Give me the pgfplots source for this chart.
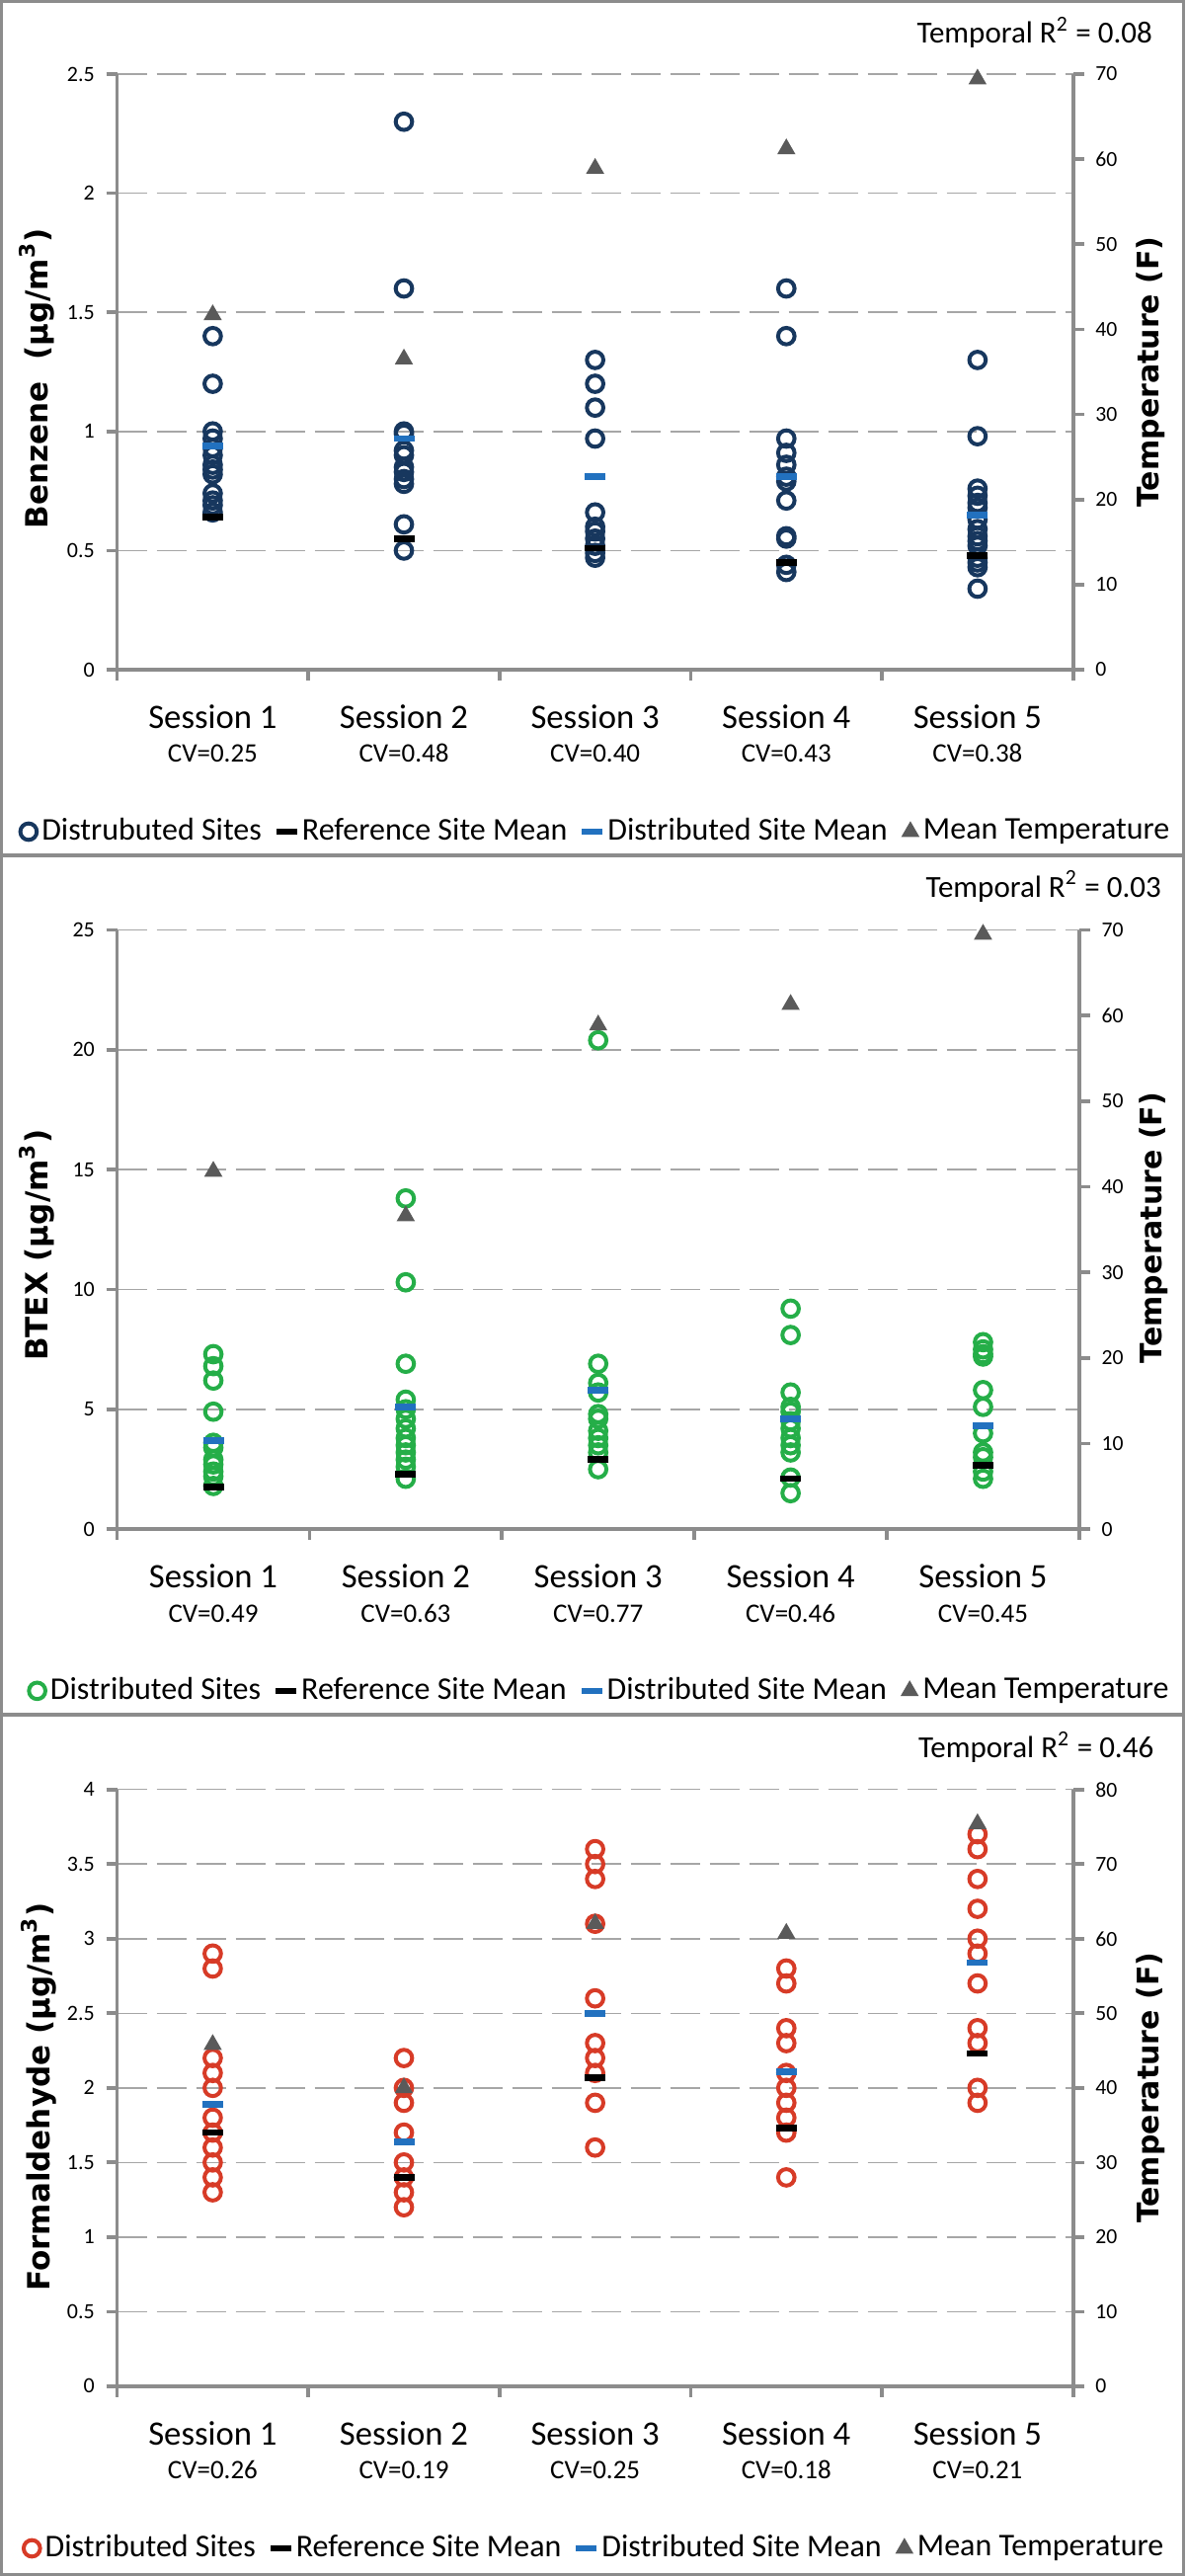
\documentclass[border=0pt]{standalone}
\usepackage{fontspec}
\setmainfont{Carlito}
\newfontfamily\labfont{DejaVu Sans}
\usepackage{pgfplots}
\pgfplotsset{compat=1.18}

\definecolor{navy}{HTML}{17375E}
\definecolor{grn}{HTML}{25AE48}
\definecolor{redc}{HTML}{D73B27}
\definecolor{bluem}{HTML}{2271BF}
\definecolor{tri}{HTML}{5A5A5A}
\definecolor{axgray}{HTML}{8C8C8C}
\definecolor{gridgray}{HTML}{A6A6A6}
\definecolor{bordergray}{HTML}{8C8C8C}

\tikzset{
  leftlab/.style={font=\labfont\bfseries\fontsize{9.3}{11}\selectfont},
  rightlab/.style={font=\labfont\bfseries\fontsize{9}{11}\selectfont},
}
\pgfplotsset{
  leftaxis/.style={
    scale only axis, xmin=0.5, xmax=5.5, ymin=0,
    axis x line*=bottom, axis y line*=left,
    axis line style={axgray, line width=1.1pt},
    every tick/.style={axgray, line width=1.1pt},
    tick align=outside, major tick length=3.3pt,
    xtick={0.5,1.5,2.5,3.5,4.5,5.5}, xticklabels={},
    extra x ticks={1,2,3,4,5},
    extra x tick style={xtick style={draw=none},
      xticklabel style={align=center, anchor=north, yshift=-3.8pt, font=\fontsize{10.4}{10.4}\selectfont}},
    ymajorgrids, major grid style={gridgray, line width=0.45pt, dash pattern=on 9pt off 3pt},
    yticklabel style={font=\fontsize{6.6}{8}\selectfont},
    /pgf/number format/assume math mode=true,
    clip=false,
  },
  rightaxis/.style={
    scale only axis, xmin=0.5, xmax=5.5, ymin=0,
    axis y line*=right, axis x line=none,
    axis line style={axgray, line width=1.1pt},
    every tick/.style={axgray, line width=1.1pt},
    tick align=outside, major tick length=3.3pt,
    yticklabel style={font=\fontsize{6.5}{8}\selectfont},
    /pgf/number format/assume math mode=true,
    legend columns=4,
    legend style={draw=none, fill=none, font=\fontsize{9.6}{11}\selectfont,
      nodes={inner sep=1.5pt},
      /tikz/every even column/.append style={column sep=3pt}},
    legend image code/.code={\draw[mark repeat=2,mark phase=2,##1] plot coordinates {(0pt,0pt)(3.2pt,0pt)(6.4pt,0pt)};},
    clip=false,
  },
  circ/.style={only marks, mark=o, mark size=2.5pt, line width=1.2pt, color=#1},
  refm/.style={only marks, mark=-, mark size=3.15pt, line width=2pt, color=black},
  distm/.style={only marks, mark=-, mark size=3.15pt, line width=2pt, color=bluem},
  temp/.style={only marks, mark=triangle*, mark size=2.8pt, color=tri},
}

\begin{document}
\begin{tikzpicture}
\path[use as bounding box] (0pt,0pt) rectangle (360pt,782.4pt);
\draw[bordergray, line width=0.9pt] (0.45pt,522.6pt) rectangle (359.55pt,781.95pt);
\draw[bordergray, line width=0.9pt] (0.45pt,261.6pt) rectangle (359.55pt,522.3pt);
\draw[bordergray, line width=0.9pt] (0.45pt,0.45pt) rectangle (359.55pt,261.3pt);

\node[anchor=east, font=\fontsize{9.3}{11}\selectfont] at (353.6pt,772.5pt) {Temporal R\textsuperscript{2} = 0.08};
\node[anchor=east, font=\fontsize{9.3}{11}\selectfont] at (356.3pt,513.1pt) {Temporal R\textsuperscript{2} = 0.03};
\node[anchor=east, font=\fontsize{9.3}{11}\selectfont] at (354pt,251.7pt) {Temporal R\textsuperscript{2} = 0.46};

% ---------------- Panel 1: Benzene ----------------
\begin{axis}[leftaxis, at={(35.58pt,579pt)}, anchor=south west,
  width=290.43pt, height=180.9pt, ymax=2.5, ytick={0,0.5,1,1.5,2,2.5},
  extra x tick labels={{Session 1\\{\fontsize{8.1}{10.4}\selectfont CV=0.25}},
    {Session 2\\{\fontsize{8.1}{10.4}\selectfont CV=0.48}},
    {Session 3\\{\fontsize{8.1}{10.4}\selectfont CV=0.40}},
    {Session 4\\{\fontsize{8.1}{10.4}\selectfont CV=0.43}},
    {Session 5\\{\fontsize{8.1}{10.4}\selectfont CV=0.38}}},
  ylabel={Benzene\ \ (µg/m\textsuperscript{3})},
  ylabel style={leftlab, at={(axis description cs:-0.0843,0.489)}, anchor=center}]
\addplot[circ=navy] coordinates {
 (1,1.4)(1,1.2)(1,1.0)(1,0.97)(1,0.93)(1,0.9)(1,0.86)(1,0.84)(1,0.82)(1,0.74)(1,0.71)(1,0.69)(1,0.66)
 (2,2.3)(2,1.6)(2,1.0)(2,0.99)(2,0.92)(2,0.9)(2,0.85)(2,0.83)(2,0.8)(2,0.78)(2,0.61)(2,0.5)
 (3,1.3)(3,1.2)(3,1.1)(3,0.97)(3,0.66)(3,0.6)(3,0.58)(3,0.55)(3,0.52)(3,0.49)(3,0.47)
 (4,1.6)(4,1.4)(4,0.97)(4,0.91)(4,0.86)(4,0.81)(4,0.79)(4,0.71)(4,0.56)(4,0.55)(4,0.44)(4,0.41)
 (5,1.3)(5,0.98)(5,0.76)(5,0.73)(5,0.7)(5,0.68)(5,0.63)(5,0.59)(5,0.56)(5,0.54)(5,0.52)(5,0.47)(5,0.45)(5,0.43)(5,0.34)};
\addplot[refm] coordinates {(1,0.64)(2,0.55)(3,0.51)(4,0.45)(5,0.48)};
\addplot[distm] coordinates {(1,0.94)(2,0.97)(3,0.81)(4,0.81)(5,0.65)};
\end{axis}
\begin{axis}[rightaxis, at={(35.58pt,579pt)}, anchor=south west,
  width=290.43pt, height=180.9pt, ymax=70, ytick={0,10,20,30,40,50,60,70},
  ylabel={Temperature (F)},
  ylabel style={rightlab, at={(axis description cs:1.0809,0.5)}, anchor=center},
  legend style={at={(axis description cs:0.5024,-0.272)}, anchor=center}]
\addlegendimage{circ=navy}\addlegendentry{Distrubuted Sites}
\addlegendimage{refm}\addlegendentry{Reference Site Mean}
\addlegendimage{distm}\addlegendentry{Distributed Site Mean}
\addplot[temp] coordinates {(1,41.7)(2,36.5)(3,58.9)(4,61.2)(5,69.4)};
\addlegendentry{Mean Temperature}
\end{axis}

% ---------------- Panel 2: BTEX ----------------
\begin{axis}[leftaxis, at={(35.58pt,317.97pt)}, anchor=south west,
  width=292.29pt, height=181.95pt, ymax=25, ytick={0,5,10,15,20,25},
  extra x tick labels={{Session 1\\{\fontsize{8.1}{10.4}\selectfont CV=0.49}},
    {Session 2\\{\fontsize{8.1}{10.4}\selectfont CV=0.63}},
    {Session 3\\{\fontsize{8.1}{10.4}\selectfont CV=0.77}},
    {Session 4\\{\fontsize{8.1}{10.4}\selectfont CV=0.46}},
    {Session 5\\{\fontsize{8.1}{10.4}\selectfont CV=0.45}}},
  ylabel={BTEX (µg/m\textsuperscript{3})},
  ylabel style={leftlab, at={(axis description cs:-0.0838,0.474)}, anchor=center}]
\addplot[circ=grn] coordinates {
 (1,7.3)(1,6.8)(1,6.2)(1,4.9)(1,3.6)(1,3.4)(1,2.9)(1,2.7)(1,2.4)(1,2.2)(1,1.8)
 (2,13.8)(2,10.3)(2,6.9)(2,5.4)(2,5.0)(2,4.6)(2,4.2)(2,3.8)(2,3.5)(2,3.2)(2,2.9)(2,2.6)(2,2.1)
 (3,20.4)(3,6.9)(3,6.1)(3,5.7)(3,4.8)(3,4.6)(3,4.1)(3,3.8)(3,3.5)(3,3.2)(3,2.5)
 (4,9.2)(4,8.1)(4,5.7)(4,5.1)(4,4.9)(4,4.5)(4,4.2)(4,3.8)(4,3.5)(4,3.2)(4,2.15)(4,1.5)
 (5,7.8)(5,7.5)(5,7.3)(5,7.2)(5,5.8)(5,5.1)(5,4.0)(5,3.2)(5,3.0)(5,2.4)(5,2.1)};
\addplot[refm] coordinates {(1,1.75)(2,2.3)(3,2.9)(4,2.1)(5,2.65)};
\addplot[distm] coordinates {(1,3.7)(2,5.1)(3,5.8)(4,4.6)(5,4.3)};
\end{axis}
\begin{axis}[rightaxis, at={(35.58pt,317.97pt)}, anchor=south west,
  width=292.29pt, height=181.95pt, ymax=70, ytick={0,10,20,30,40,50,60,70},
  ylabel={Temperature (F)},
  ylabel style={rightlab, at={(axis description cs:1.0771,0.503)}, anchor=center},
  legend style={at={(axis description cs:0.5033,-0.270)}, anchor=center}]
\addlegendimage{circ=grn}\addlegendentry{Distributed Sites}
\addlegendimage{refm}\addlegendentry{Reference Site Mean}
\addlegendimage{distm}\addlegendentry{Distributed Site Mean}
\addplot[temp] coordinates {(1,41.8)(2,36.6)(3,58.9)(4,61.3)(5,69.5)};
\addlegendentry{Mean Temperature}
\end{axis}

% ---------------- Panel 3: Formaldehyde ----------------
\begin{axis}[leftaxis, at={(35.58pt,57.63pt)}, anchor=south west,
  width=290.43pt, height=181.26pt, ymax=4, ytick={0,0.5,1,1.5,2,2.5,3,3.5,4},
  extra x tick labels={{Session 1\\{\fontsize{8.1}{10.4}\selectfont CV=0.26}},
    {Session 2\\{\fontsize{8.1}{10.4}\selectfont CV=0.19}},
    {Session 3\\{\fontsize{8.1}{10.4}\selectfont CV=0.25}},
    {Session 4\\{\fontsize{8.1}{10.4}\selectfont CV=0.18}},
    {Session 5\\{\fontsize{8.1}{10.4}\selectfont CV=0.21}}},
  ylabel={Formaldehyde (µg/m\textsuperscript{3})},
  ylabel style={leftlab, at={(axis description cs:-0.0822,0.485)}, anchor=center}]
\addplot[circ=redc] coordinates {
 (1,2.9)(1,2.8)(1,2.2)(1,2.1)(1,2.0)(1,1.8)(1,1.7)(1,1.6)(1,1.5)(1,1.4)(1,1.3)
 (2,2.2)(2,2.0)(2,1.9)(2,1.7)(2,1.5)(2,1.4)(2,1.3)(2,1.2)
 (3,3.6)(3,3.5)(3,3.4)(3,3.1)(3,2.6)(3,2.3)(3,2.2)(3,2.1)(3,1.9)(3,1.6)
 (4,2.8)(4,2.7)(4,2.4)(4,2.3)(4,2.1)(4,2.0)(4,1.9)(4,1.8)(4,1.7)(4,1.4)
 (5,3.7)(5,3.6)(5,3.4)(5,3.2)(5,3.0)(5,2.9)(5,2.7)(5,2.4)(5,2.3)(5,2.0)(5,1.9)};
\addplot[refm] coordinates {(1,1.70)(2,1.40)(3,2.07)(4,1.73)(5,2.23)};
\addplot[distm] coordinates {(1,1.89)(2,1.64)(3,2.50)(4,2.11)(5,2.84)};
\end{axis}
\begin{axis}[rightaxis, at={(35.58pt,57.63pt)}, anchor=south west,
  width=290.43pt, height=181.26pt, ymax=80, ytick={0,10,20,30,40,50,60,70,80},
  ylabel={Temperature (F)},
  ylabel style={rightlab, at={(axis description cs:1.081,0.5)}, anchor=center},
  legend style={at={(axis description cs:0.501,-0.2716)}, anchor=center}]
\addlegendimage{circ=redc}\addlegendentry{Distributed Sites}
\addlegendimage{refm}\addlegendentry{Reference Site Mean}
\addlegendimage{distm}\addlegendentry{Distributed Site Mean}
\addplot[temp] coordinates {(1,45.8)(2,40.0)(3,62.0)(4,60.7)(5,75.4)};
\addlegendentry{Mean Temperature}
\end{axis}
\end{tikzpicture}
\end{document}
